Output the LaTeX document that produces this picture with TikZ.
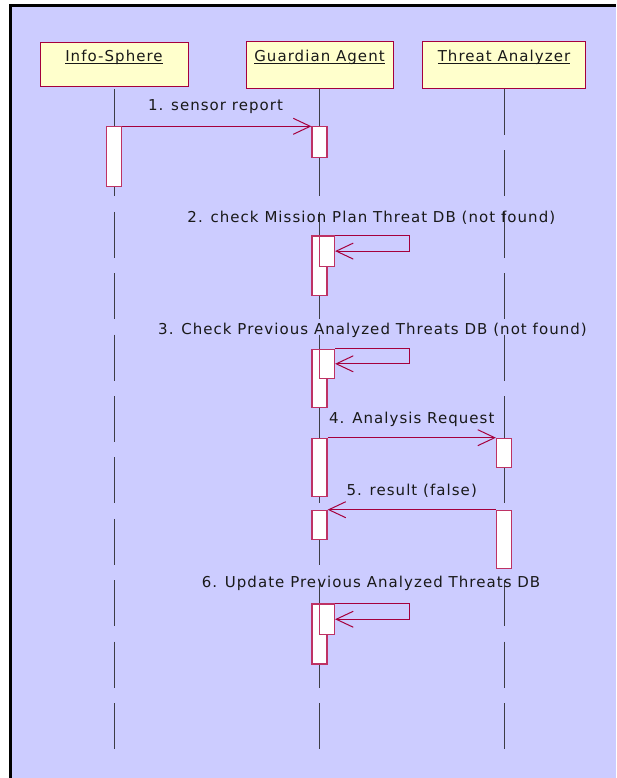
\documentclass[tikz,border=0pt]{standalone}
\usepackage{fontspec}
\setmainfont{DejaVu Sans}[LetterSpace=7.0]
\usetikzlibrary{arrows.meta}

\definecolor{lavender}{RGB}{204,204,255}
\definecolor{boxfill}{RGB}{255,255,204}
\definecolor{crimson}{RGB}{165,0,60}
\definecolor{actedge}{RGB}{190,50,100}
\definecolor{lifegray}{RGB}{60,60,70}
\definecolor{ink}{RGB}{25,25,25}

% underline drawn just below the baseline, as object names are shown
\newcommand\ulname[1]{\leavevmode\setbox0\hbox{#1}\rlap{\vrule height -1.3pt depth 2.3pt width \wd0}\box0}

\begin{document}
\begin{tikzpicture}[x=1pt,y=-1pt,
  font=\fontsize{15pt}{18pt}\selectfont,
  objbox/.style={draw=crimson, fill=boxfill, line width=1pt, inner sep=0pt,
    text=ink, anchor=north, minimum width=#1},
  act/.style={draw=actedge, fill=white, line width=1.2pt, inner sep=0pt,
    minimum width=15pt, anchor=north},
  lifeline/.style={draw=lifegray, line width=1pt, dash pattern=on 46pt off 15.4pt},
  msg/.style={draw=crimson, line width=1pt, -{Straight Barb[length=17pt,width=16pt]}},
  lbl/.style={anchor=base, text=ink, inner sep=0pt}]

\useasboundingbox (0,0) rectangle (616,778);

% frame
\fill[white] (0,0) rectangle (616,778);
\fill[lavender] (10.8,6) rectangle (616,778);
\draw[black, line width=3pt] (10.8,778) -- (10.8,6) -- (616,6);

% objects
\node[objbox=148pt, text height=19pt, text depth=25pt] (info) at (114,42) {\ulname{Info-Sphere}};
\node[objbox=147pt, text height=20pt, text depth=27pt] (guard) at (319.5,41) {\ulname{Guardian Agent}};
\node[objbox=163pt, text height=20pt, text depth=27pt] (threat) at (504,41) {\ulname{Threat Analyzer}};

% lifelines
\coordinate (infoEnd) at (114,748.7);
\coordinate (guardEnd) at (319.5,748.7);
\coordinate (threatEnd) at (504,748.7);
\draw[lifeline, shorten <=2pt] (info.south) -- (infoEnd);
\draw[lifeline] (guard.south) -- (guardEnd);
\draw[lifeline] (threat.south) -- (threatEnd);

% activations
\node[act, minimum height=59.7pt] (a1) at (114,126.3) {};
\node[act, minimum height=30.4pt] (g1) at (319.5,126.3) {};
\node[act, minimum height=59.7pt] (g2) at (319.5,235.3) {};
\node[act, minimum height=30.4pt] (g2n) at (327,235.3) {};
\node[act, minimum height=58.3pt] (g3) at (319.5,348.7) {};
\node[act, minimum height=29pt] (g3n) at (327,348.7) {};
\node[act, minimum height=58pt] (g4) at (319.5,437.7) {};
\node[act, minimum height=29pt] (g5) at (319.5,509.7) {};
\node[act, minimum height=60pt] (g6) at (319.5,603.3) {};
\node[act, minimum height=30.7pt] (g6n) at (327,603.3) {};
\node[act, minimum height=29pt] (t1) at (504,437.7) {};
\node[act, minimum height=58pt] (t2) at (504,509.7) {};

% messages
\draw[msg] (a1.north east) -- (g1.north west);
\coordinate (r2) at (409,235.3);
\draw[msg] (g2n.north east) -- (r2) |- (g2n.east);
\coordinate (r3) at (409,348.7);
\draw[msg] (g3n.north east) -- (r3) |- (g3n.east);
\draw[msg] (g4.north east) -- (t1.north west);
\draw[msg] (t2.north west) -- (g5.north east);
\coordinate (r6) at (409,603.3);
\draw[msg] (g6n.north east) -- (r6) |- (g6n.east);

% message labels
\node[lbl] (m1) at (215.5,111) {1. sensor report};
\node[lbl] (m2) at (371.3,222.3) {2. check Mission Plan Threat DB (not found)};
\node[lbl] (m3) at (372.5,334) {3. Check Previous Analyzed Threats DB (not found)};
\node[lbl] (m4) at (411.8,423.3) {4. Analysis Request};
\node[lbl] (m5) at (411.7,495.7) {5. result (false)};
\node[lbl] (m6) at (371,587.3) {6. Update Previous Analyzed Threats DB};
\end{tikzpicture}
\end{document}
